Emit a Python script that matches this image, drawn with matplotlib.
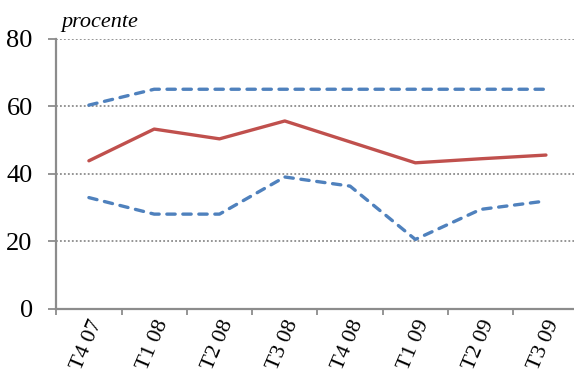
import matplotlib.pyplot as plt

quarters = ["T4 07", "T1 08", "T2 08", "T3 08", "T4 08", "T1 09", "T2 09", "T3 09"]
central = [43.8, 53.2, 50.3, 55.6, 49.4, 43.2, 44.4, 45.5]
upper = [60.3, 65, 65, 65, 65, 65, 65, 65]
lower = [32.9, 28.0, 28.0, 39.0, 36.3, 20.5, 29.4, 31.9]

plt.rcParams["font.family"] = ["Liberation Serif", "DejaVu Serif"]

fig = plt.figure(figsize=(5.74, 3.75), dpi=100)
ax = fig.add_axes([0.098, 0.177, 0.910, 0.72])

blue = "#4F81BD"
red = "#C0504D"
x = list(range(len(quarters)))
ax.plot(x, upper, color=blue, linewidth=2.4, dashes=(2.5, 2.3), dash_capstyle="round")
ax.plot(x, central, color=red, linewidth=2.4, solid_capstyle="round")
ax.plot(x, lower, color=blue, linewidth=2.4, dashes=(2.5, 2.3), dash_capstyle="round")

ax.set_ylim(0, 80)
ax.set_xlim(-0.5, len(quarters) - 0.5)
ax.set_yticks([0, 20, 40, 60, 80])
ax.yaxis.grid(True, linestyle=(0, (1, 1.2)), color="#8C8C8C", linewidth=1.3)
ax.set_axisbelow(True)

# tick marks sit between categories, labels sit on them
ax.set_xticks([i - 0.5 for i in range(len(quarters))])
ax.set_xticklabels([])
ax.set_xticks(x, minor=True)
ax.set_xticklabels(quarters, minor=True, rotation=67, ha="right", va="top",
                   rotation_mode="anchor", fontsize=16)
ax.tick_params(axis="x", which="minor", length=0, pad=6)
ax.tick_params(axis="x", which="major", length=4, color="#8C8C8C", width=1.3)
ax.tick_params(axis="y", length=6, color="#8C8C8C", width=1.3, labelsize=19, pad=11)

for side in ["top", "right"]:
    ax.spines[side].set_visible(False)
for side in ["left", "bottom"]:
    ax.spines[side].set_color("#8C8C8C")
    ax.spines[side].set_linewidth(1.6)

fig.text(0.107, 0.927, "procente", fontsize=16, style="italic")

fig.savefig("out.png", dpi=100)
